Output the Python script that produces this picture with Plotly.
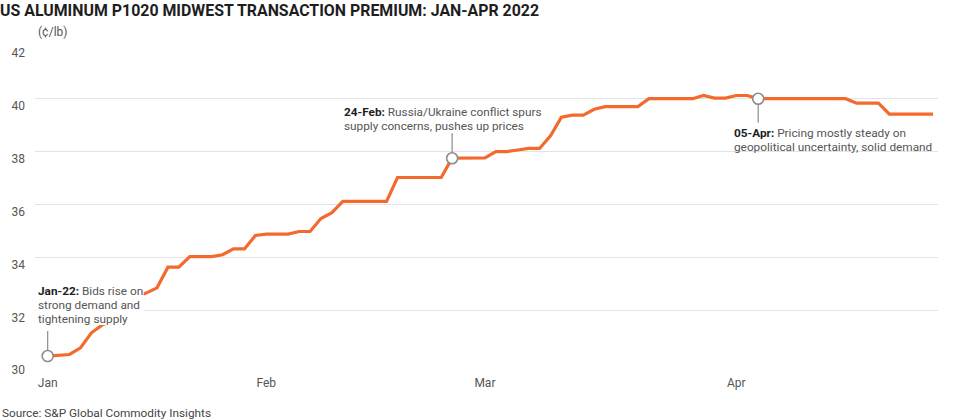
import plotly.graph_objects as go

# ---- data ----
jan_days = [3, 4, 5, 6, 7, 10, 11, 12, 13, 14, 18, 19, 20, 21, 24, 25, 26, 27, 28, 31]
feb_days = [1, 2, 3, 4, 7, 8, 9, 10, 11, 14, 15, 16, 17, 18, 21, 22, 23, 24, 25, 28]
mar_days = [1, 2, 3, 4, 7, 8, 9, 10, 11, 14, 15, 16, 17, 18, 21, 22, 23, 24, 25, 28, 29, 30, 31]
apr_days = [1, 4, 5, 6, 7, 8, 11, 12, 13, 14, 15, 18, 19, 20, 21, 22, 25, 26, 27]

dates = ([f"2022-01-{d:02d}" for d in jan_days] + [f"2022-02-{d:02d}" for d in feb_days]
         + [f"2022-03-{d:02d}" for d in mar_days] + [f"2022-04-{d:02d}" for d in apr_days])

premium = [
    30.27, 30.30, 30.33, 30.58, 31.15, 31.45, 31.60, 32.20, 32.50, 32.65,
    32.85, 33.63, 33.63, 34.03, 34.03, 34.03, 34.10, 34.32, 34.32, 34.83,
    34.88, 34.88, 34.88, 34.98, 34.98, 35.47, 35.69, 36.12, 36.12, 36.12,
    36.12, 36.12, 37.02, 37.02, 37.02, 37.02, 37.02, 37.75, 37.76, 37.76,
    37.76, 38.00, 38.00, 38.06, 38.12, 38.12, 38.60, 39.30, 39.38, 39.38,
    39.60, 39.70, 39.70, 39.70, 39.70, 40.00, 40.00, 40.00, 40.00, 40.00,
    40.12, 40.02, 40.02, 40.12, 40.12, 40.00, 40.00, 40.00, 40.00, 40.00,
    40.00, 40.00, 40.00, 40.00, 39.83, 39.83, 39.83, 39.42, 39.42, 39.42,
    39.42, 39.42,
]

month_tick_dates = ["2022-01-03", "2022-02-01", "2022-03-01", "2022-04-01"]
month_tick_labels = ["Jan", "Feb", "Mar", "Apr"]
y_ticks = [30, 32, 34, 36, 38, 40, 42]

event_dates = ["2022-01-03", "2022-02-24", "2022-04-05"]
event_bold = ["Jan-22:", "24-Feb:", "05-Apr:"]
event_lines = [
    ["Bids rise on", "strong demand and", "tightening supply"],
    ["Russia/Ukraine conflict spurs", "supply concerns, pushes up prices"],
    ["Pricing mostly steady on", "geopolitical uncertainty, solid demand"],
]
event_values = [premium[dates.index(d)] for d in event_dates]

# ---- style ----
FONT = "Roboto"
ORANGE = "#F26A2E"
GRID = "#E3E3E3"
TXT = "#555555"
DARK = "#1E1E1E"
ANN_SIZE = 11.8
STEP = 14.0

fig = go.Figure()
fig.add_trace(go.Scatter(
    x=dates, y=premium, mode="lines",
    line=dict(color=ORANGE, width=3.2, shape="linear"),
    hoverinfo="skip", showlegend=False,
))
fig.add_trace(go.Scatter(
    x=event_dates, y=event_values, mode="markers",
    marker=dict(size=11, color="white", line=dict(color="#8C8C8C", width=1.6)),
    hoverinfo="skip", showlegend=False, cliponaxis=False,
))

# connectors (pixel length, anchored at event value)
conn = [25, 25, -24]
for d, v, L in zip(event_dates, event_values, conn):
    fig.add_shape(type="line", xref="x", yref="y", x0=d, x1=d,
                  ysizemode="pixel", yanchor=v, y0=0, y1=L,
                  line=dict(color="#8C8C8C", width=1.2), layer="between")

# white block behind the first note (hides line & gridline like the original)
fig.add_shape(type="rect", xref="x", yref="y",
              xsizemode="pixel", xanchor=event_dates[0], x0=-11, x1=96,
              ysizemode="pixel", yanchor=event_values[0], y0=31, y1=71,
              fillcolor="white", line=dict(width=0), layer="above")

# annotation text, one line each (xshift, first-line yshift)
layouts = [(-10.7, 65.3), (-109, 46.4), (-25, -34.6)]
for d, v, b, lines, (xs, ys) in zip(event_dates, event_values, event_bold, event_lines, layouts):
    for k, ln in enumerate(lines):
        if k == 0:
            txt = f"<b><span style='color:{DARK}'>{b}</span></b> {ln}"
        else:
            txt = ln
        fig.add_annotation(x=d, y=v, xref="x", yref="y", text=txt, showarrow=False,
                           xanchor="left", yanchor="middle", xshift=xs, yshift=ys - k * STEP,
                           borderpad=0,
                           font=dict(family=FONT, size=ANN_SIZE, color=TXT), align="left")

# unit label
fig.add_annotation(x=0, y=1, xref="paper", yref="paper", text="(¢/lb)", showarrow=False,
                   xanchor="left", yanchor="bottom", xshift=1, yshift=4,
                   font=dict(family=FONT, size=12, color=TXT))
# source
fig.add_annotation(x=-35 / 903, y=-(412 - 363) / 319, xref="paper", yref="paper",
                   text="Source: S&P Global Commodity Insights", showarrow=False,
                   xanchor="left", yanchor="middle",
                   font=dict(family=FONT, size=11.8, color="#444444"))

fig.update_layout(
    width=971, height=420,
    margin=dict(l=35, r=33, t=45, b=56),
    paper_bgcolor="white", plot_bgcolor="white",
    title=dict(text="<b>US ALUMINUM P1020 MIDWEST TRANSACTION PREMIUM: JAN-APR 2022</b>",
               x=0.0, xref="container", xanchor="left",
               y=1 - 10 / 420, yref="container", yanchor="middle",
               font=dict(family=FONT, size=15.9, color=DARK)),
    xaxis=dict(type="category", categoryorder="array", categoryarray=dates,
               tickmode="array", tickvals=month_tick_dates, ticktext=month_tick_labels,
               range=[-1.16, 81.45], showgrid=False, zeroline=False, showline=False,
               ticks="", ticklabelstandoff=10,
               tickfont=dict(family=FONT, size=12, color=TXT)),
    yaxis=dict(range=[29.97, 42.03], tickmode="array", tickvals=y_ticks,
               showgrid=True, gridcolor=GRID, gridwidth=1, zeroline=False, showline=False,
               ticks="", ticklabelstandoff=9, ticklabelshift=7,
               tickfont=dict(family=FONT, size=12, color=TXT)),
)

fig.write_html("out.html", config={"displayModeBar": False},
               post_script="document.body.style.margin='0';")
